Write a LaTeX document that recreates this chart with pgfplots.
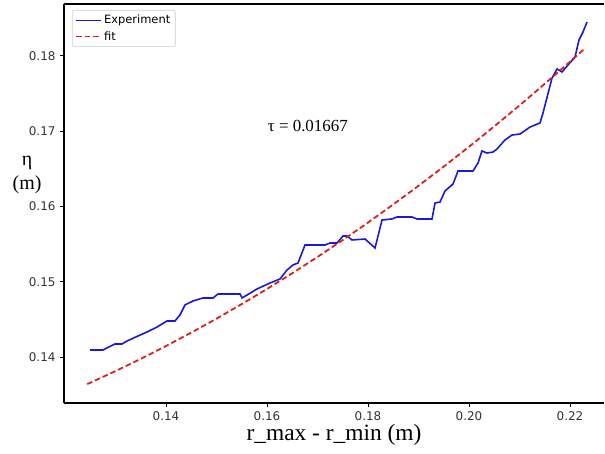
\documentclass[border=0pt]{standalone}
\usepackage{pgfplots}
\pgfplotsset{compat=1.18}
\usepackage{fontspec}
\setmainfont{Liberation Serif}
\newfontfamily\dejavu{DejaVu Sans}
\definecolor{expblue}{RGB}{25,25,215}
\definecolor{fitred}{RGB}{220,30,30}
\begin{document}
\begin{tikzpicture}
\begin{axis}[
  scale only axis,
  width=540bp, height=399bp,
  xmin=0.11980, xmax=0.22673,
  ymin=0.13389, ymax=0.18688,
  axis x line*=box,
  axis y line*=left,
  axis line style={line width=2.4bp, black},
  xtick={0.14,0.16,0.18,0.20,0.22},
  ytick={0.14,0.15,0.16,0.17,0.18},
  xtick pos=lower, ytick pos=left,
  tick align=outside,
  major tick length=4bp,
  tick style={line width=0.8bp, black},
  scaled ticks=false,
  /pgf/number format/assume math mode=true,
  xticklabel style={/pgf/number format/fixed, /pgf/number format/fixed zerofill, /pgf/number format/precision=2},
  yticklabel style={/pgf/number format/fixed, /pgf/number format/fixed zerofill, /pgf/number format/precision=2},
  tick label style={font=\dejavu\fontsize{12}{14}\selectfont, text=black!80},
  xticklabel style={yshift=-1bp},
  yticklabel style={xshift=-1bp},
  xlabel={r\_max - r\_min (m)},
  xlabel style={at={(axis description cs:0.5,0)}, anchor=north, yshift=-21bp, inner sep=0pt, font=\fontsize{23.5}{26}\selectfont},
  ylabel={η\\(m)},
  ylabel style={rotate=-90, at={(axis description cs:-0.0685,0.571)}, anchor=center, align=center, inner sep=0pt, font=\fontsize{20}{24}\selectfont},
  legend style={at={(axis description cs:0.0148,0.985)}, anchor=north west, draw=black!20, rounded corners=2bp, line width=0.6bp, font=\dejavu\fontsize{11.5}{13}\selectfont, row sep=2bp, inner xsep=3bp, inner ysep=3bp},
  legend cell align=left,
  legend image code/.code={\draw[#1] (0bp,0bp) -- (25bp,0bp);},
]
\addplot[expblue, line width=1.6bp] coordinates {
(0.12495,0.14093)(0.12752,0.14093)(0.12990,0.14173)(0.13129,0.14173)(0.13228,0.14212)
(0.13446,0.14279)(0.13624,0.14332)(0.13822,0.14398)(0.14020,0.14478)(0.14178,0.14478)
(0.14277,0.14558)(0.14376,0.14691)(0.14535,0.14744)(0.14733,0.14784)(0.14931,0.14784)
(0.15030,0.14837)(0.15465,0.14837)(0.15505,0.14784)(0.15604,0.14823)(0.15802,0.14903)
(0.16059,0.14983)(0.16257,0.15036)(0.16396,0.15155)(0.16515,0.15222)(0.16614,0.15248)
(0.16752,0.15487)(0.17149,0.15487)(0.17248,0.15514)(0.17386,0.15514)(0.17505,0.15607)
(0.17584,0.15607)(0.17683,0.15554)(0.17941,0.15567)(0.18139,0.15448)(0.18277,0.15819)
(0.18475,0.15833)(0.18574,0.15859)(0.18871,0.15859)(0.18970,0.15833)(0.19267,0.15833)
(0.19327,0.16045)(0.19426,0.16058)(0.19525,0.16205)(0.19683,0.16297)(0.19782,0.16470)
(0.20079,0.16470)(0.20178,0.16576)(0.20257,0.16736)(0.20356,0.16709)(0.20475,0.16722)
(0.20554,0.16762)(0.20713,0.16882)(0.20851,0.16948)(0.21010,0.16961)(0.21208,0.17054)
(0.21406,0.17108)(0.21465,0.17240)(0.21644,0.17705)(0.21743,0.17825)(0.21842,0.17785)
(0.21960,0.17878)(0.22099,0.17984)(0.22178,0.18210)(0.22257,0.18316)(0.22337,0.18449)
};
\addlegendentry{Experiment}
\addplot[fitred, line width=1.8bp, dash pattern=on 5.5bp off 3bp] coordinates {
(0.1244,0.13640)(0.125,0.13658)(0.130,0.13813)(0.135,0.13975)(0.140,0.14146)
(0.145,0.14324)(0.150,0.14509)(0.155,0.14703)(0.160,0.14904)(0.165,0.15112)
(0.170,0.15329)(0.175,0.15553)(0.180,0.15785)(0.185,0.16026)(0.190,0.16274)
(0.195,0.16529)(0.200,0.16792)(0.205,0.17063)(0.210,0.17341)(0.215,0.17628)
(0.220,0.17922)(0.2228,0.18090)
};
\addlegendentry{fit}
\node[font=\fontsize{17}{20}\selectfont] at (axis cs:0.1681,0.1707) {τ = 0.01667};
\end{axis}
\pgfresetboundingbox
\path (current axis.south west) ++(-64bp,-51bp) coordinate (bbA);
\path (current axis.north east) ++(1bp,4bp) coordinate (bbB);
\useasboundingbox (bbA) rectangle (bbB);
\end{tikzpicture}
\end{document}
